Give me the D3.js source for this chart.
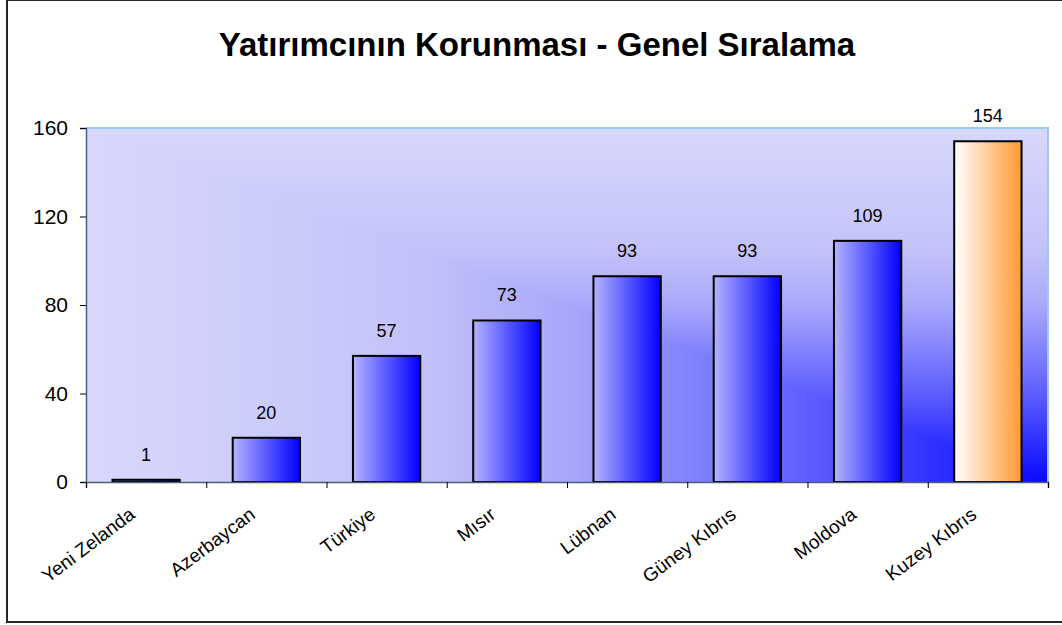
<!DOCTYPE html>
<html>
<head>
<meta charset="utf-8">
<script src="https://cdn.jsdelivr.net/npm/d3@7"></script>
<style>
  body { margin: 0; background: #fff; }
  text { font-family: "Liberation Sans", Arial, sans-serif; fill: #000; }
</style>
</head>
<body>
<div id="chart"></div>
<script>
const countries = ['Yeni Zelanda', 'Azerbaycan', 'Türkiye', 'Mısır', 'Lübnan', 'Güney Kıbrıs', 'Moldova', 'Kuzey Kıbrıs'];
const ranks = [1, 20, 57, 73, 93, 93, 109, 154];
const yTicks = [0, 40, 80, 120, 160];
const highlight = 'Kuzey Kıbrıs';

const W = 1062, H = 625;
const plotL = 86, plotR = 1048, plotT = 128, plotB = 482;

const svg = d3.select('#chart').append('svg').attr('width', W).attr('height', H);
const defs = svg.append('defs');

// "from corner" style background: colour depends on min(x, y)
const bgStops = [[0, '#d8d8fc'], [0.35, '#c2c2fa'], [0.5, '#a8a8fa'], [0.75, '#5e5eff'], [1, '#0808ff']];
function grad(id, x1, y1, x2, y2, stops) {
    const g = defs.append('linearGradient').attr('id', id).attr('gradientUnits', 'userSpaceOnUse')
        .attr('x1', x1).attr('y1', y1).attr('x2', x2).attr('y2', y2);
    stops.forEach(s => g.append('stop').attr('offset', s[0]).attr('stop-color', s[1]));
}
grad('bgV', 0, plotT, 0, plotB, bgStops);
grad('bgH', plotL, 0, plotR, 0, bgStops);
defs.append('linearGradient').attr('id', 'barBlue')
    .call(g => { g.append('stop').attr('offset', 0).attr('stop-color', '#b4b4ff'); g.append('stop').attr('offset', 1).attr('stop-color', '#0000ff'); });
defs.append('linearGradient').attr('id', 'barOrange')
    .call(g => { g.append('stop').attr('offset', 0).attr('stop-color', '#ffffff'); g.append('stop').attr('offset', 1).attr('stop-color', '#ff9933'); });

// outer frame
svg.append('rect').attr('x', 7).attr('y', 0).attr('width', 1060).attr('height', 622)
    .attr('fill', 'none').attr('stroke', '#262626').attr('stroke-width', 2);

svg.append('text').attr('x', 537).attr('y', 56).attr('text-anchor', 'middle')
    .style('font-size', '33px').style('font-weight', 'bold').text('Yatırımcının Korunması - Genel Sıralama');

svg.append('rect').attr('x', plotL).attr('y', plotT).attr('width', plotR - plotL).attr('height', plotB - plotT).attr('fill', 'url(#bgV)');
svg.append('path').attr('d', `M${plotL},${plotT}L${plotR},${plotB}L${plotL},${plotB}Z`).attr('fill', 'url(#bgH)');

// top / right border of plot area
svg.append('path').attr('d', `M${plotL},${plotT}H${plotR}V${plotB}`).attr('fill', 'none')
    .attr('stroke', '#99c8f4').attr('stroke-width', 2);

const x = d3.scaleBand().domain(countries).range([plotL, plotR]).paddingInner(0.44).paddingOuter(0.22);
const y = d3.scaleLinear().domain([0, 160]).range([plotB, plotT]);

svg.selectAll('rect.bar').data(countries).enter().append('rect').attr('class', 'bar')
    .attr('x', d => x(d)).attr('width', x.bandwidth())
    .attr('y', (d, i) => y(ranks[i])).attr('height', (d, i) => y(0) - y(ranks[i]))
    .attr('fill', d => d === highlight ? 'url(#barOrange)' : 'url(#barBlue)')
    .attr('stroke', '#000').attr('stroke-width', 2);

svg.selectAll('text.val').data(countries).enter().append('text').attr('class', 'val')
    .attr('x', d => x(d) + x.bandwidth() / 2).attr('y', (d, i) => y(ranks[i]) - 19)
    .attr('text-anchor', 'middle').style('font-size', '18px').text((d, i) => ranks[i]);

// y axis
const yAxis = svg.append('g').attr('transform', `translate(${plotL},0)`)
    .call(d3.axisLeft(y).tickValues(yTicks).tickSize(6).tickPadding(12));
yAxis.selectAll('text').style('font-size', '21px').attr('fill', '#000');
yAxis.select('.domain').attr('stroke', '#4d5d7a').attr('stroke-width', 1.5);
yAxis.selectAll('line').attr('stroke', '#000');

// x axis: ticks on category boundaries
const xb = d3.scaleLinear().domain([0, countries.length]).range([plotL, plotR]);
const xAxis = svg.append('g').attr('transform', `translate(0,${plotB})`)
    .call(d3.axisBottom(xb).ticks(countries.length).tickSize(6).tickFormat(''));
xAxis.select('.domain').attr('stroke', '#4d5d7a').attr('stroke-width', 1.5);
xAxis.selectAll('line').attr('stroke', '#000');

svg.selectAll('text.cat').data(countries).enter().append('text').attr('class', 'cat')
    .attr('transform', d => `translate(${x(d) + x.bandwidth() / 2 - 10},517) rotate(-37)`)
    .attr('text-anchor', 'end').style('font-size', '19px').text(d => d);
</script>
</body>
</html>
